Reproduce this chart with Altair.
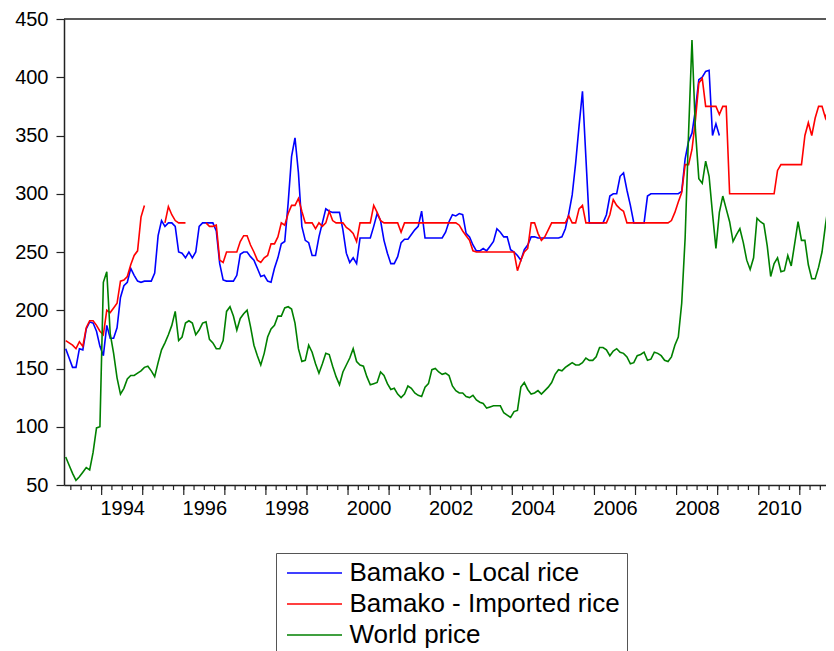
import altair as alt
import pandas as pd

# ---- data (monthly, first observation Feb 1993) ----
series_names = ["Bamako - Local rice", "Bamako - Imported rice", "World price"]
series_colors = ["#0000FF", "#FF0000", "#008000"]

local_rice = [
    167, 159, 151, 151, 167, 166, 184, 190, 189, 182, 169, 161, 187, 176, 176, 185,
    211, 221, 224, 236, 230, 225, 224, 225, 225, 225, 232, 264, 277, 272, 275, 275,
    272, 250, 249, 245, 250, 245, 250, 272, 275, 275, 275, 275, 268, 240, 226, 225,
    225, 225, 230, 248, 250, 250, 246, 243, 236, 229, 230, 225, 224, 236, 245, 257,
    259, 292, 332, 348, 318, 272, 260, 258, 247, 247, 263, 275, 287, 285, 284, 284,
    284, 269, 249, 241, 245, 240, 262, 262, 262, 262, 272, 283, 277, 260, 249, 240,
    240, 246, 258, 261, 261, 265, 269, 272, 285, 262, 262, 262, 262, 262, 262, 267,
    276, 282, 281, 283, 282, 266, 263, 256, 251, 251, 253, 251, 255, 259, 270, 267,
    263, 263, 252, 250, 247, 243, 252, 256, 263, 263, 262, 262, 262, 262, 262, 262,
    262, 263, 270, 283, 299, 326, 358, 388, 331, 275, 275, 275, 275, 275, 282, 298,
    300, 300, 315, 318, 303, 290, 275, 275, 275, 275, 298, 300, 300, 300, 300, 300,
    300, 300, 300, 300, 302, 330, 345, 352, 372, 398, 400, 405, 406, 350, 360, 350,
]

imported_rice = [
    174, 172, 170, 167, 173, 169, 185, 191, 191, 187, 182, 179, 200, 198, 202, 206,
    225, 226, 229, 239, 247, 251, 280, 290, None, None, None, None, None, 275, 289, 282,
    277, 275, 275, 275, None, None, None, None, None, 275, 272, 272, 273, 243, 241, 250,
    250, 250, 250, 259, 264, 264, 256, 250, 243, 241, 245, 247, 257, 257, 263, 275,
    273, 283, 290, 290, 296, 285, 275, 275, 275, 270, 275, 272, 275, 285, 277, 275,
    275, 275, 271, 269, 266, 259, 275, 275, 275, 275, 290, 284, 277, 275, 275, 275,
    275, 275, 267, 275, 275, 275, 275, 275, 275, 275, 275, 275, 275, 275, 275, 275,
    275, 275, 275, 273, 268, 264, 260, 251, 250, 250, 250, 250, 250, 250, 250, 250,
    250, 250, 250, 250, 234, 243, 250, 253, 275, 275, 266, 260, 263, 269, 275, 275,
    275, 275, 275, 281, 275, 275, 287, 290, 275, 275, 275, 275, 275, 275, 275, 282,
    295, 290, 287, 285, 275, 275, 275, 275, 275, 275, 275, 275, 275, 275, 275, 275,
    275, 277, 284, 293, 301, 325, 325, 338, 363, 395, 399, 375, 375, 375, 375, 368,
    375, 375, 300, 300, 300, 300, 300, 300, 300, 300, 300, 300, 300, 300, 300, 300,
    320, 325, 325, 325, 325, 325, 325, 325, 350, 361, 350, 365, 375, 375, 365, 375,
    375,
]

world_price = [
    74, 67, 60, 54, 57, 61, 65, 63, 78, 99, 100, 224, 233, 180, 163, 142,
    128, 133, 141, 144, 144, 146, 148, 151, 152, 148, 143, 155, 166, 172, 179, 187,
    199, 174, 177, 189, 191, 189, 179, 183, 189, 190, 175, 172, 167, 167, 174, 199,
    203, 195, 183, 193, 197, 200, 186, 170, 161, 153, 163, 177, 184, 187, 195, 195,
    202, 203, 201, 189, 167, 156, 157, 170, 164, 154, 146, 154, 163, 162, 152, 143,
    136, 147, 153, 159, 167, 156, 153, 152, 143, 136, 137, 138, 147, 144, 137, 132,
    133, 128, 125, 128, 135, 133, 129, 127, 126, 134, 137, 149, 150, 147, 145, 146,
    144, 135, 131, 129, 129, 126, 125, 127, 123, 121, 120, 116, 117, 118, 118, 118,
    112, 110, 108, 113, 114, 134, 138, 132, 128, 129, 131, 128, 131, 134, 138, 145,
    149, 148, 151, 153, 155, 153, 153, 155, 159, 157, 157, 160, 168, 168, 166, 161,
    165, 167, 164, 163, 160, 154, 155, 161, 162, 164, 157, 158, 164, 163, 161, 157,
    156, 160, 170, 177, 206, 262, 352, 432, 355, 313, 309, 328, 315, 283, 253, 284,
    298, 287, 276, 259, 265, 270, 258, 243, 235, 245, 279, 276, 274, 255, 229, 240,
    245, 233, 234, 247, 238, 257, 276, 260, 260, 239, 227, 227, 237, 250, 273, 293,
    299,
]

start_year = 1993
start_month = 2  # February
n_months = 225   # Feb 1993 .. Oct 2011

# axis tick positions
quarter_ticks = [1993 + q / 4 for q in range(1, 76)]   # 1993.25 .. 2011.75
year_ticks = list(range(1994, 2012))
label_years = [y + 0.5 for y in range(1994, 2011, 2)]
y_ticks = list(range(50, 451, 50))

# ---- build table ----
rows = []
for name, vals in zip(series_names, [local_rice, imported_rice, world_price]):
    seg = 0
    prev_none = True
    for k, v in enumerate(vals):
        if v is None:
            prev_none = True
            continue
        if prev_none:
            seg += 1
            prev_none = False
        t = start_year + (start_month - 1 + k + 0.5) / 12
        rows.append({"t": t, "value": v, "series": name, "seg": f"{name}-{seg}"})
df = pd.DataFrame(rows)

W, H = 770, 466
x_dom = [start_year + (start_month - 1) / 12, start_year + (start_month - 1 + n_months) / 12]
FONT = "Liberation Sans"
AX = "#222222"

x_scale = alt.Scale(domain=x_dom, nice=False, zero=False)
y_scale = alt.Scale(domain=[50, 450], nice=False, zero=False)

x_axis = alt.Axis(values=label_years,
                  labelExpr="format(floor(datum.value), 'd')",
                  ticks=False, domain=True, domainColor=AX, domainWidth=1.5,
                  labelFont=FONT, labelFontSize=20, labelColor="black",
                  labelPadding=13, labelOverlap=False, labelFlush=False,
                  grid=False, title=None)
y_axis = alt.Axis(values=y_ticks, ticks=True, tickSize=8, tickWidth=1.2, tickColor=AX,
                  domain=True, domainColor=AX, domainWidth=1.5,
                  labelFont=FONT, labelFontSize=20, labelColor="black",
                  labelPadding=8, grid=False, title=None)

lines = alt.Chart(df).mark_line(strokeWidth=1.6, clip=True).encode(
    x=alt.X("t:Q", scale=x_scale, axis=x_axis, title=None),
    y=alt.Y("value:Q", scale=y_scale, axis=y_axis, title=None),
    color=alt.Color("series:N",
                    scale=alt.Scale(domain=series_names, range=series_colors),
                    legend=alt.Legend(orient="none", legendX=212, legendY=534, title=None,
                                      direction="vertical",
                                      symbolType="M-5,0H5", symbolSize=121,
                                      symbolStrokeWidth=1.5, symbolOffset=18.5,
                                      labelOffset=22, labelFont=FONT, labelFontSize=26,
                                      labelColor="black", labelLimit=500,
                                      padding=7, rowPadding=5,
                                      strokeColor="#555555", fillColor="white")),
    detail="seg:N",
    order="t:Q",
)

# x-axis ticks: quarterly minor ticks and longer yearly ticks
minor_ticks = alt.Chart(pd.DataFrame({"q": quarter_ticks})).mark_rule(
    color=AX, strokeWidth=1.2
).encode(
    x=alt.X("q:Q", scale=x_scale, axis=x_axis, title=None),
    y=alt.value(H),
    y2=alt.value(H + 5),
)

major_ticks = alt.Chart(pd.DataFrame({"year": year_ticks})).mark_rule(
    color=AX, strokeWidth=1.2
).encode(
    x=alt.X("year:Q", scale=x_scale, axis=x_axis, title=None),
    y=alt.value(H),
    y2=alt.value(H + 10),
)

top_border = alt.Chart(pd.DataFrame({"v": [450]})).mark_rule(
    color=AX, strokeWidth=1.5
).encode(
    y=alt.Y("v:Q", scale=y_scale, axis=y_axis, title=None),
    x=alt.value(0),
    x2=alt.value(W),
)

chart = alt.layer(lines, minor_ticks, major_ticks, top_border).properties(
    width=W, height=H,
    autosize=alt.AutoSizeParams(type="none"),
    padding={"left": 56, "top": 11, "right": -8, "bottom": 166},
    background="white",
).configure_view(strokeWidth=0)

chart.save("out.html", embed_options={"renderer": "svg", "actions": False})
